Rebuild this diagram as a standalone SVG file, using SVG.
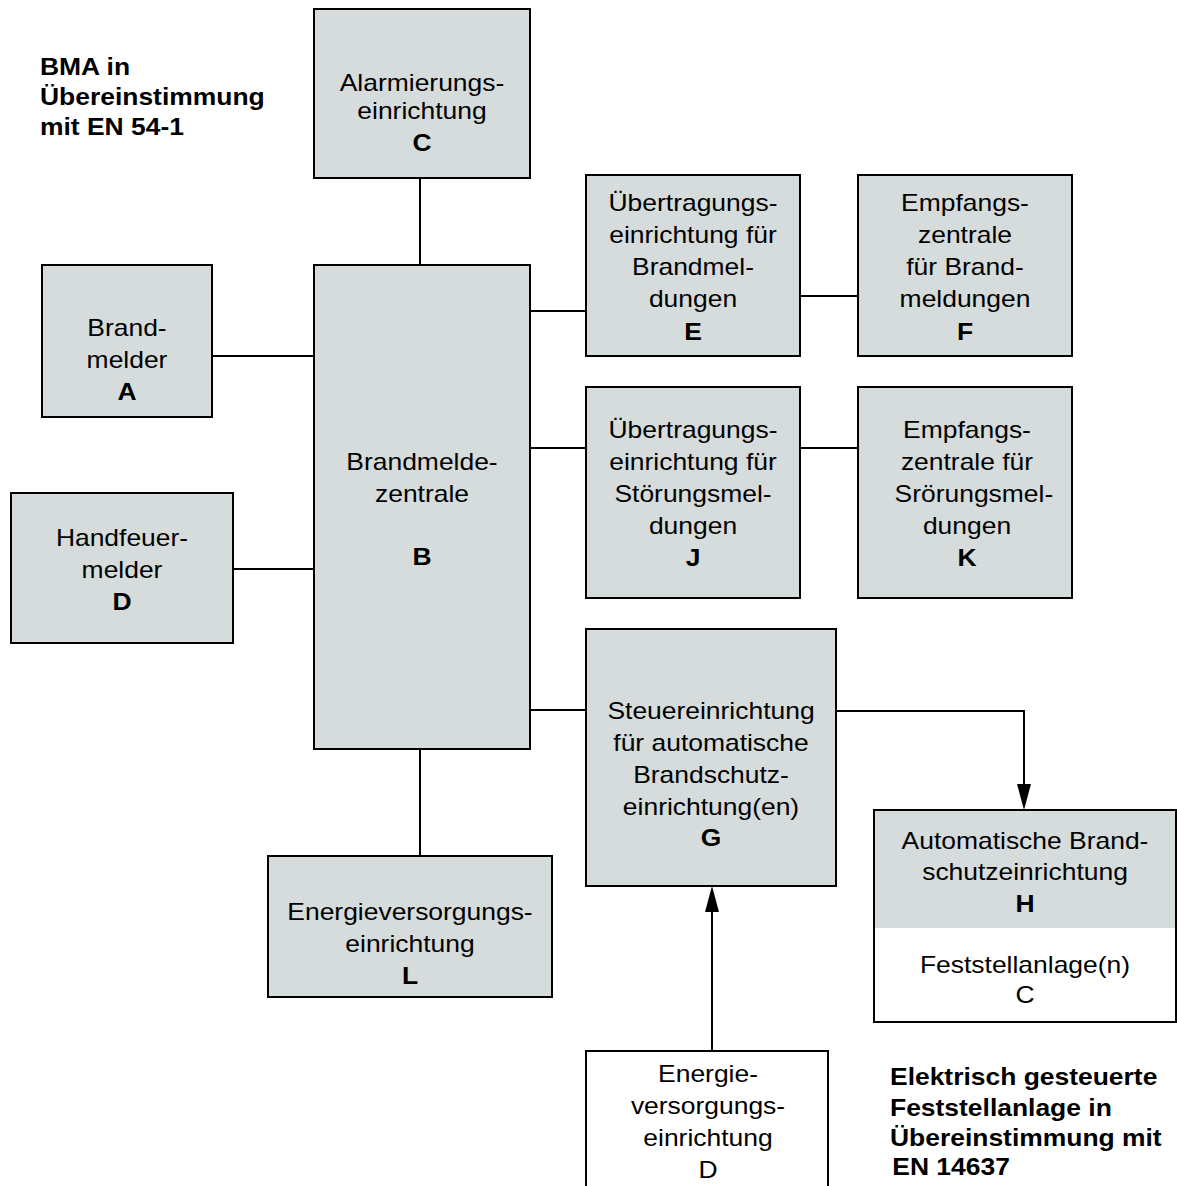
<svg xmlns="http://www.w3.org/2000/svg" width="1177" height="1186" viewBox="0 0 1177 1186">
<style>
.box{fill:#d5dcdb;stroke:#000;stroke-width:2}
.wbox{fill:#fff;stroke:#000;stroke-width:2}
.t{font-family:"Liberation Sans",Arial,sans-serif;font-size:23px;text-anchor:middle;fill:#000}
.b{font-weight:bold}
.h{font-family:"Liberation Sans",Arial,sans-serif;font-size:23px;font-weight:bold;fill:#000}
.c{fill:none;stroke:#000;stroke-width:2}
</style>
<rect width="1177" height="1186" fill="#fff"/>
<g id="connectors">
<line class="c" x1="420" y1="178" x2="420" y2="265"/>
<line class="c" x1="212" y1="356" x2="314" y2="356"/>
<line class="c" x1="233" y1="569" x2="314" y2="569"/>
<line class="c" x1="530" y1="311" x2="586" y2="311"/>
<line class="c" x1="800" y1="296" x2="858" y2="296"/>
<line class="c" x1="530" y1="448" x2="586" y2="448"/>
<line class="c" x1="800" y1="448" x2="858" y2="448"/>
<line class="c" x1="530" y1="710" x2="586" y2="710"/>
<line class="c" x1="420" y1="749" x2="420" y2="856"/>
<path class="c" d="M836,711 H1024 V784"/>
<path d="M1017,784 L1031,784 L1024,810 Z" fill="#000"/>
<line class="c" x1="712" y1="1051" x2="712" y2="912"/>
<path d="M705,912 L719,912 L712,886 Z" fill="#000"/>
</g>
<g id="nodeC">
<rect class="box" x="314" y="9" width="216" height="169"/>
<g transform="translate(422 0) scale(1.15 1)">
<text class="t" x="0" y="91">Alarmierungs-</text>
<text class="t" x="0" y="119">einrichtung</text>
<text class="t b" x="0" y="151">C</text>
</g>
</g>
<g id="nodeB">
<rect class="box" x="314" y="265" width="216" height="484"/>
<g transform="translate(422 0) scale(1.15 1)">
<text class="t" x="0" y="470">Brandmelde-</text>
<text class="t" x="0" y="502">zentrale</text>
<text class="t b" x="0" y="565">B</text>
</g>
</g>
<g id="nodeA">
<rect class="box" x="42" y="265" width="170" height="152"/>
<g transform="translate(127 0) scale(1.15 1)">
<text class="t" x="0" y="336">Brand-</text>
<text class="t" x="0" y="368">melder</text>
<text class="t b" x="0" y="400">A</text>
</g>
</g>
<g id="nodeD">
<rect class="box" x="11" y="493" width="222" height="150"/>
<g transform="translate(122 0) scale(1.15 1)">
<text class="t" x="0" y="546">Handfeuer-</text>
<text class="t" x="0" y="578">melder</text>
<text class="t b" x="0" y="610">D</text>
</g>
</g>
<g id="nodeE">
<rect class="box" x="586" y="175" width="214" height="181"/>
<g transform="translate(693 0) scale(1.15 1)">
<text class="t" x="0" y="211">Übertragungs-</text>
<text class="t" x="0" y="243">einrichtung für</text>
<text class="t" x="0" y="275">Brandmel-</text>
<text class="t" x="0" y="307">dungen</text>
<text class="t b" x="0" y="340">E</text>
</g>
</g>
<g id="nodeF">
<rect class="box" x="858" y="175" width="214" height="181"/>
<g transform="translate(965 0) scale(1.15 1)">
<text class="t" x="0" y="211">Empfangs-</text>
<text class="t" x="0" y="243">zentrale</text>
<text class="t" x="0" y="275">für Brand-</text>
<text class="t" x="0" y="307">meldungen</text>
<text class="t b" x="0" y="340">F</text>
</g>
</g>
<g id="nodeJ">
<rect class="box" x="586" y="387" width="214" height="211"/>
<g transform="translate(693 0) scale(1.15 1)">
<text class="t" x="0" y="438">Übertragungs-</text>
<text class="t" x="0" y="470">einrichtung für</text>
<text class="t" x="0" y="502">Störungsmel-</text>
<text class="t" x="0" y="534">dungen</text>
<text class="t b" x="0" y="566">J</text>
</g>
</g>
<g id="nodeK">
<rect class="box" x="858" y="387" width="214" height="211"/>
<g transform="translate(967 0) scale(1.15 1)">
<text class="t" x="0" y="438">Empfangs-</text>
<text class="t" x="0" y="470">zentrale für</text>
<text class="t" x="6" y="502">Srörungsmel-</text>
<text class="t" x="0" y="534">dungen</text>
<text class="t b" x="0" y="566">K</text>
</g>
</g>
<g id="nodeG">
<rect class="box" x="586" y="629" width="250" height="257"/>
<g transform="translate(711 0) scale(1.15 1)">
<text class="t" x="0" y="719">Steuereinrichtung</text>
<text class="t" x="0" y="751">für automatische</text>
<text class="t" x="0" y="783">Brandschutz-</text>
<text class="t" x="0" y="815">einrichtung(en)</text>
<text class="t b" x="0" y="846">G</text>
</g>
</g>
<g id="nodeH">
<rect x="874" y="810" width="302" height="212" fill="#fff"/>
<rect x="874" y="810" width="302" height="118" fill="#d5dcdb"/>
<rect x="874" y="810" width="302" height="212" fill="none" stroke="#000" stroke-width="2"/>
<g transform="translate(1025 0) scale(1.15 1)">
<text class="t" x="0" y="849">Automatische Brand-</text>
<text class="t" x="0" y="880">schutzeinrichtung</text>
<text class="t b" x="0" y="912">H</text>
<text class="t" x="0" y="973">Feststellanlage(n)</text>
<text class="t" x="0" y="1003">C</text>
</g>
</g>
<g id="nodeL">
<rect class="box" x="268" y="856" width="284" height="141"/>
<g transform="translate(410 0) scale(1.15 1)">
<text class="t" x="0" y="920">Energieversorgungs-</text>
<text class="t" x="0" y="952">einrichtung</text>
<text class="t b" x="0" y="984">L</text>
</g>
</g>
<g id="nodeD2">
<rect class="wbox" x="586" y="1051" width="242" height="150"/>
<g transform="translate(708 0) scale(1.15 1)">
<text class="t" x="0" y="1082">Energie-</text>
<text class="t" x="0" y="1114">versorgungs-</text>
<text class="t" x="0" y="1146">einrichtung</text>
<text class="t" x="0" y="1178">D</text>
</g>
</g>
<g id="titles">
<g transform="translate(40 0) scale(1.15 1)">
<text class="h" x="0" y="75">BMA in</text>
<text class="h" x="0" y="105">Übereinstimmung</text>
<text class="h" x="0" y="135">mit EN 54-1</text>
</g>
<g transform="translate(890 0) scale(1.15 1)">
<text class="h" x="0" y="1085">Elektrisch gesteuerte</text>
<text class="h" x="0" y="1116">Feststellanlage in</text>
<text class="h" x="0" y="1146">Übereinstimmung mit</text>
<text class="h" x="2" y="1175">EN 14637</text>
</g>
</g>
</svg>
